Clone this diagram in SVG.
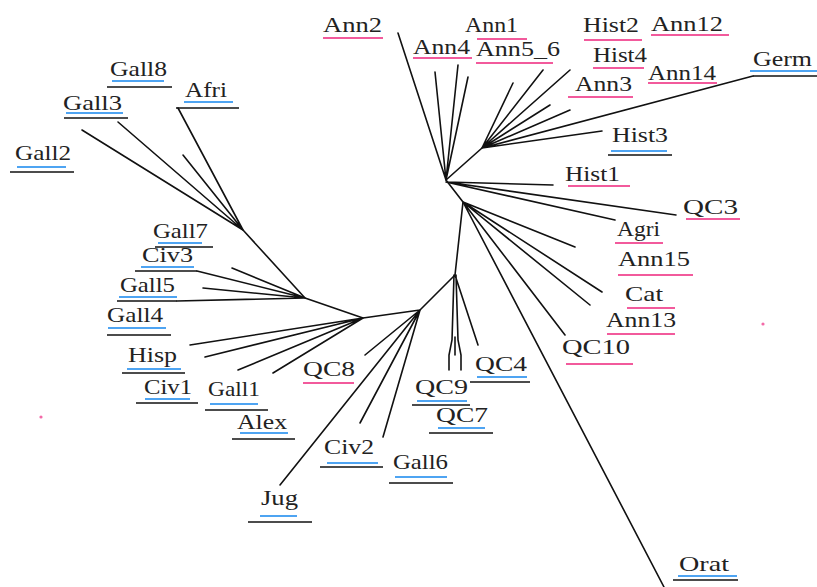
<svg xmlns="http://www.w3.org/2000/svg" width="817" height="587" viewBox="0 0 817 587">
<style>
text{font-family:"Liberation Serif","Times New Roman",serif;font-size:22px;fill:#222}
.e{stroke:#111;stroke-width:1.6;fill:none;stroke-linecap:round}
.pk{stroke:#f25a9c;stroke-width:2}
.bl{stroke:#4ea4f2;stroke-width:2.2}
.k{stroke:#111;stroke-width:1.5}
</style>
<rect width="817" height="587" fill="#fff"/>
<g id="connectors" class="e">
<path d="M446,180L482,148M446,180L463,202M463,202L455,275M455,275L420,310M420,310L363,318M363,318L305,298M305,298L243,230"/>
<path d="M446,180L398,33M446,180L435,72M446,180L458,65M446,180L468,77M446,182L553,185M446,182L676,215M446,182L615,220"/>
<path d="M482,148L513,83M482,148L543,70M482,148L570,70M482,148L550,105M482,148L570,110M482,148L602,131M482,148L753,76"/>
<path d="M463,202L575,247M463,202L602,292M463,202L590,305M463,202L565,335M463,202L664,587"/>
<path d="M454,275L452,340L449,355L449,370M456,275L458,340L461,355L461,370M455,337L455,355M455,275L478,345"/>
<path d="M420,310L365,355M420,310L280,485M420,310L360,423M420,310L383,437"/>
<path d="M363,318L190,345M363,318L205,357M363,318L238,370M363,318L273,373"/>
<path d="M305,298L197,271M305,298L232,268M305,298L203,288M305,298L177,301"/>
<path d="M243,230L82,130M243,230L118,122M243,230L178,108M243,230L183,155"/>
</g>
<g id="Ann2"><text x="323" y="32" textLength="59" lengthAdjust="spacingAndGlyphs">Ann2</text><line class="pk" x1="323" y1="38" x2="383" y2="38"/></g>
<g id="Ann1"><text x="465" y="32" textLength="53" lengthAdjust="spacingAndGlyphs">Ann1</text><line class="pk" x1="477" y1="39" x2="527" y2="39"/></g>
<g id="Ann4"><text x="413" y="54" textLength="57" lengthAdjust="spacingAndGlyphs">Ann4</text><line class="pk" x1="413" y1="58" x2="472" y2="58"/></g>
<g id="Ann5_6"><text x="476" y="56" textLength="84" lengthAdjust="spacingAndGlyphs">Ann5_6</text><line class="pk" x1="476" y1="63" x2="553" y2="63"/></g>
<g id="Hist2"><text x="583" y="32" textLength="56" lengthAdjust="spacingAndGlyphs">Hist2</text><line class="pk" x1="584" y1="40" x2="642" y2="40"/></g>
<g id="Ann12"><text x="651" y="31" textLength="72" lengthAdjust="spacingAndGlyphs">Ann12</text><line class="pk" x1="651" y1="35" x2="729" y2="35"/></g>
<g id="Hist4"><text x="593" y="62" textLength="54" lengthAdjust="spacingAndGlyphs">Hist4</text><line class="pk" x1="593" y1="68" x2="644" y2="68"/></g>
<g id="Ann14"><text x="648" y="80" textLength="68" lengthAdjust="spacingAndGlyphs">Ann14</text><line class="pk" x1="648" y1="83" x2="717" y2="83"/></g>
<g id="Ann3"><text x="575" y="91" textLength="57" lengthAdjust="spacingAndGlyphs">Ann3</text><line class="pk" x1="568" y1="97" x2="633" y2="97"/></g>
<g id="Hist1"><text x="565" y="181" textLength="55" lengthAdjust="spacingAndGlyphs">Hist1</text><line class="pk" x1="568" y1="186" x2="630" y2="186"/></g>
<g id="QC3"><text x="683" y="214" textLength="55" lengthAdjust="spacingAndGlyphs">QC3</text><line class="pk" x1="686" y1="219" x2="740" y2="219"/></g>
<g id="Agri"><text x="617" y="236" textLength="43" lengthAdjust="spacingAndGlyphs">Agri</text><line class="pk" x1="615" y1="243" x2="663" y2="243"/></g>
<g id="Ann15"><text x="618" y="266" textLength="72" lengthAdjust="spacingAndGlyphs">Ann15</text><line class="pk" x1="618" y1="275" x2="693" y2="275"/></g>
<g id="Cat"><text x="625" y="301" textLength="38" lengthAdjust="spacingAndGlyphs">Cat</text><line class="pk" x1="627" y1="308" x2="675" y2="308"/></g>
<g id="Ann13"><text x="606" y="327" textLength="70" lengthAdjust="spacingAndGlyphs">Ann13</text><line class="pk" x1="607" y1="334" x2="675" y2="334"/></g>
<g id="QC10"><text x="562" y="354" textLength="68" lengthAdjust="spacingAndGlyphs">QC10</text><line class="pk" x1="566" y1="364" x2="633" y2="364"/></g>
<g id="QC8"><text x="303" y="376" textLength="52" lengthAdjust="spacingAndGlyphs">QC8</text><line class="pk" x1="303" y1="383" x2="354" y2="383"/></g>
<g id="Gall8"><text x="110" y="76" textLength="57" lengthAdjust="spacingAndGlyphs">Gall8</text><line class="bl" x1="112" y1="81" x2="164" y2="81"/><line class="k" x1="107" y1="87" x2="172" y2="87"/></g>
<g id="Gall3"><text x="63" y="110" textLength="59" lengthAdjust="spacingAndGlyphs">Gall3</text><line class="bl" x1="66" y1="113" x2="123" y2="113"/><line class="k" x1="64" y1="118" x2="128" y2="118"/></g>
<g id="Afri"><text x="185" y="97" textLength="42" lengthAdjust="spacingAndGlyphs">Afri</text><line class="bl" x1="184" y1="102" x2="233" y2="102"/><line class="k" x1="176" y1="108" x2="239" y2="108"/></g>
<g id="Gall2"><text x="15" y="160" textLength="56" lengthAdjust="spacingAndGlyphs">Gall2</text><line class="bl" x1="17" y1="167" x2="66" y2="167"/><line class="k" x1="10" y1="172" x2="74" y2="172"/></g>
<g id="Gall7"><text x="153" y="238" textLength="55" lengthAdjust="spacingAndGlyphs">Gall7</text><line class="bl" x1="158" y1="243" x2="202" y2="243"/><line class="k" x1="155" y1="247" x2="213" y2="247"/></g>
<g id="Civ3"><text x="142" y="262" textLength="51" lengthAdjust="spacingAndGlyphs">Civ3</text><line class="bl" x1="141" y1="267" x2="194" y2="267"/><line class="k" x1="135" y1="271" x2="197" y2="271"/></g>
<g id="Gall5"><text x="120" y="292" textLength="55" lengthAdjust="spacingAndGlyphs">Gall5</text><line class="bl" x1="119" y1="297" x2="177" y2="297"/><line class="k" x1="117" y1="301" x2="177" y2="301"/></g>
<g id="Gall4"><text x="107" y="322" textLength="56" lengthAdjust="spacingAndGlyphs">Gall4</text><line class="bl" x1="108" y1="328" x2="166" y2="328"/><line class="k" x1="107" y1="335" x2="171" y2="335"/></g>
<g id="Hisp"><text x="128" y="362" textLength="49" lengthAdjust="spacingAndGlyphs">Hisp</text><line class="bl" x1="127" y1="369" x2="181" y2="369"/><line class="k" x1="122" y1="373" x2="185" y2="373"/></g>
<g id="Civ1"><text x="144" y="394" textLength="48" lengthAdjust="spacingAndGlyphs">Civ1</text><line class="bl" x1="145" y1="399" x2="190" y2="399"/><line class="k" x1="136" y1="403" x2="198" y2="403"/></g>
<g id="Gall1"><text x="208" y="396" textLength="52" lengthAdjust="spacingAndGlyphs">Gall1</text><line class="bl" x1="210" y1="404" x2="258" y2="404"/><line class="k" x1="205" y1="410" x2="268" y2="410"/></g>
<g id="Alex"><text x="237" y="429" textLength="50" lengthAdjust="spacingAndGlyphs">Alex</text><line class="bl" x1="240" y1="433" x2="288" y2="433"/><line class="k" x1="232" y1="439" x2="295" y2="439"/></g>
<g id="Jug"><text x="261" y="505" textLength="37" lengthAdjust="spacingAndGlyphs">Jug</text><line class="bl" x1="260" y1="516" x2="297" y2="516"/><line class="k" x1="248" y1="522" x2="312" y2="522"/></g>
<g id="Civ2"><text x="324" y="454" textLength="50" lengthAdjust="spacingAndGlyphs">Civ2</text><line class="bl" x1="327" y1="463" x2="378" y2="463"/><line class="k" x1="320" y1="467" x2="383" y2="467"/></g>
<g id="Gall6"><text x="393" y="469" textLength="55" lengthAdjust="spacingAndGlyphs">Gall6</text><line class="bl" x1="395" y1="477" x2="447" y2="477"/><line class="k" x1="389" y1="483" x2="453" y2="483"/></g>
<g id="QC9"><text x="415" y="394" textLength="53" lengthAdjust="spacingAndGlyphs">QC9</text><line class="bl" x1="417" y1="401" x2="467" y2="401"/><line class="k" x1="412" y1="405" x2="470" y2="405"/></g>
<g id="QC7"><text x="436" y="422" textLength="52" lengthAdjust="spacingAndGlyphs">QC7</text><line class="bl" x1="438" y1="428" x2="485" y2="428"/><line class="k" x1="429" y1="433" x2="493" y2="433"/></g>
<g id="QC4"><text x="475" y="371" textLength="52" lengthAdjust="spacingAndGlyphs">QC4</text><line class="bl" x1="477" y1="377" x2="527" y2="377"/><line class="k" x1="470" y1="382" x2="530" y2="382"/></g>
<g id="Hist3"><text x="612" y="142" textLength="56" lengthAdjust="spacingAndGlyphs">Hist3</text><line class="bl" x1="611" y1="151" x2="667" y2="151"/><line class="k" x1="608" y1="155" x2="672" y2="155"/></g>
<g id="Germ"><text x="753" y="66" textLength="59" lengthAdjust="spacingAndGlyphs">Germ</text><line class="bl" x1="750" y1="71" x2="817" y2="71"/><line class="k" x1="753" y1="76" x2="817" y2="76"/></g>
<g id="Orat"><text x="679" y="571" textLength="50" lengthAdjust="spacingAndGlyphs">Orat</text><line class="bl" x1="678" y1="576" x2="737" y2="576"/><line class="k" x1="673" y1="580" x2="738" y2="580"/></g>
<circle cx="41" cy="417" r="1.6" fill="#f36aa8"/>
<circle cx="763" cy="324" r="1.6" fill="#f36aa8"/>
</svg>
